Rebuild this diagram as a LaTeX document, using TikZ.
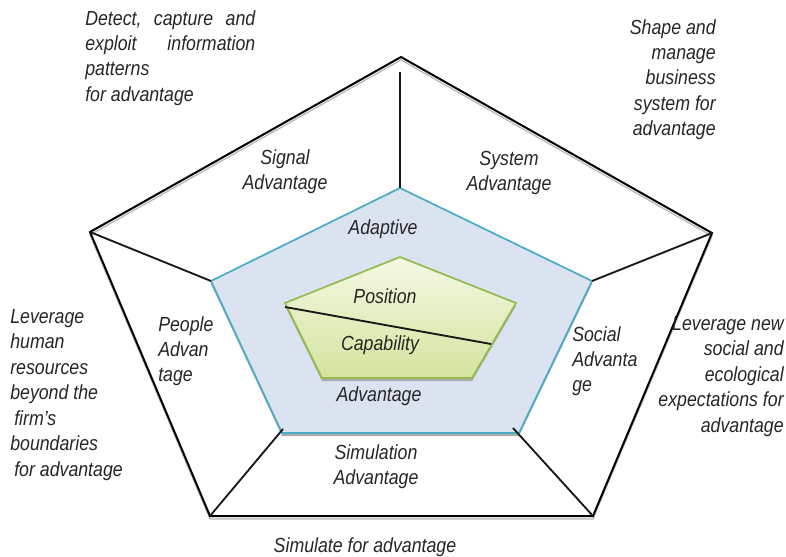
\documentclass[tikz,border=0pt]{standalone}
\usepackage{fontspec}
\setmainfont{Liberation Sans}[FakeStretch=0.87]
\definecolor{paleblue}{RGB}{220,227,240}
\definecolor{aqua}{RGB}{75,172,198}
\definecolor{greentop}{RGB}{244,248,228}
\definecolor{greenbot}{RGB}{212,228,158}
\definecolor{greenline}{RGB}{150,185,80}
\tikzstyle{outer} = [draw=black, line width=1.5pt, line join=miter, preaction={draw=gray!55, line width=1pt, transform canvas={yshift=-2.2pt}}]
\tikzstyle{core} = [fill=paleblue, draw=aqua, line width=1.3pt, preaction={fill=gray!65, transform canvas={yshift=-2.3pt}}]
\tikzstyle{inner} = [top color=greentop, bottom color=greenbot, draw=greenline, line width=1.3pt, preaction={fill=gray!65, transform canvas={yshift=-2.3pt}}]
\tikzstyle{spoke} = [draw=black!90, line width=1.4pt]
\tikzstyle{txt} = [font=\fontsize{15.3pt}{19.1pt}\selectfont\itshape, text=black!85, inner sep=0pt]
\newcommand{\spreadline}[1]{\hbox to 127.5pt{#1}}

\begin{document}
\begin{tikzpicture}[x=0.75pt, y=-0.75pt]
\useasboundingbox (0,0) rectangle (786,557);

% Corners
\coordinate (o1) at (401,57);
\coordinate (o2) at (712,233);
\coordinate (o3) at (593,516);
\coordinate (o4) at (210,516);
\coordinate (o5) at (90,232);
\coordinate (ot) at (400,72);
\coordinate (b1) at (400,188);
\coordinate (b2) at (592,281);
\coordinate (b3) at (519,433);
\coordinate (b4) at (282,433);
\coordinate (b5) at (211,281);
\coordinate (bl) at (283,429);
\coordinate (br) at (513,428);
\coordinate (g1) at (400,257);
\coordinate (g2) at (516,303);
\coordinate (g3) at (472,378);
\coordinate (g4) at (322,378);
\coordinate (g5) at (285,303);
\coordinate (cutl) at (285,307);
\coordinate (cutr) at (491,344);

% Pentagons
\draw[outer] (o1) -- (o2) -- (o3) -- (o4) -- (o5) -- cycle;
\draw[core] (b1) -- (b2) -- (b3) -- (b4) -- (b5) -- cycle;
\draw[inner] (g1) -- (g2) -- (g3) -- (g4) -- (g5) -- cycle;
\draw[spoke] (cutl) -- (cutr);

% Spokes
\draw[spoke] (ot) -- (b1);
\draw[spoke] (o2) -- (b2);
\draw[spoke] (o5) -- (b5);
\draw[spoke] (o4) -- (bl);
\draw[spoke] (o3) -- (br);

% Sector labels
\node[txt, align=center, anchor=north] (signal) at (285,149) {Signal\\Advantage};
\node[txt, align=center, anchor=north] (system) at (509,151) {System\\Advantage};
\node[txt, align=left, anchor=north west] (people) at (158,316) {People\\Advan\\tage};
\node[txt, align=left, anchor=north west] (social) at (572,326) {Social\\Advanta\\ge};
\node[txt, align=center, anchor=north] (simul) at (376,444) {Simulation\\Advantage};

% Core labels
\node[txt] (adaptive) at (383,229) {Adaptive};
\node[txt] (position) at (385,296) {Position};
\node[txt] (capab) at (380,345) {Capability};
\node[txt] (advant) at (379,396) {Advantage};

% Outer texts
\node[txt, align=left, anchor=north west] (detect) at (85,10) {\spreadline{Detect,\hfill capture\hfill and}\\\spreadline{exploit\hfill information}\\patterns\\for advantage};
\node[txt, align=right, anchor=north east] (shape) at (716,19) {Shape and\\manage\\business\\system for\\advantage};
\node[txt, align=left, anchor=north west] (human) at (10,309) {Leverage\\human\\resources\\beyond the\\\hspace*{3pt}firm’s\\boundaries\\\hspace*{3pt}for advantage};
\node[txt, align=right, anchor=north east] (ecol) at (784,316) {Leverage new\\social and\\ecological\\expectations for\\advantage};
\node[txt] (simfor) at (365,547) {Simulate for advantage};

\end{tikzpicture}
\end{document}
